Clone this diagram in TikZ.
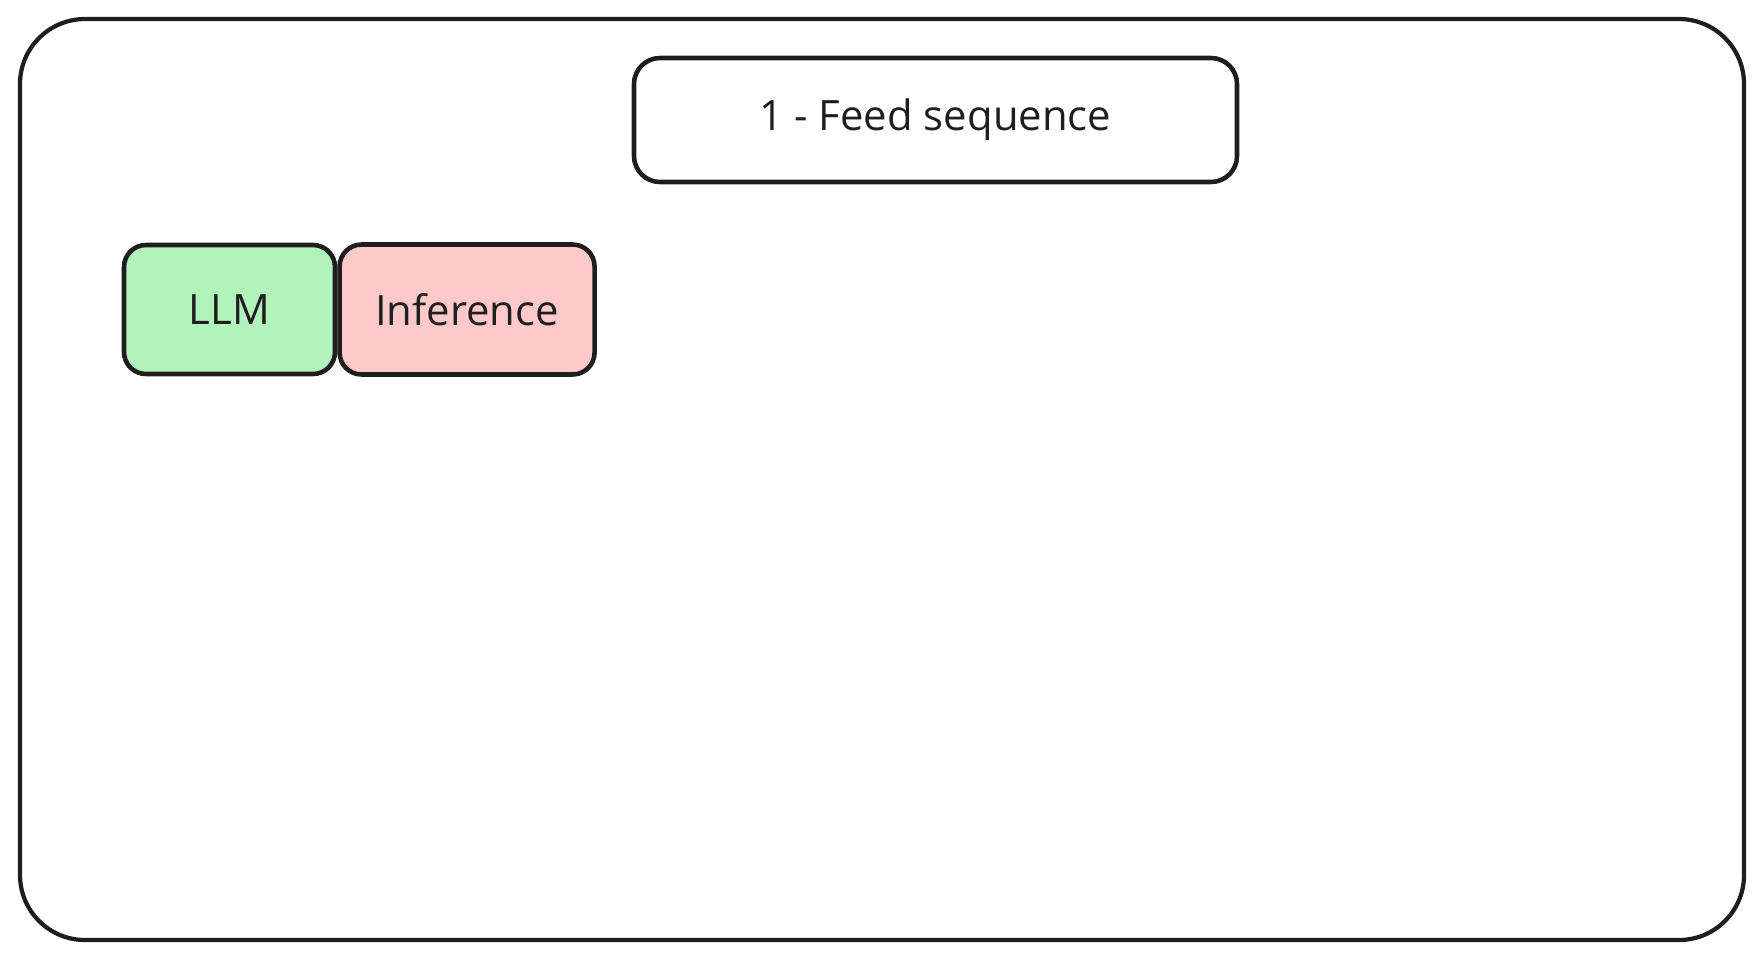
\documentclass[tikz,border=0pt]{standalone}
\usepackage{fontspec}
\setmainfont{Open Sans}
\usetikzlibrary{positioning}
\definecolor{inkgray}{HTML}{1E1E1E}
\definecolor{llmgreen}{HTML}{B2F2BB}
\definecolor{infred}{HTML}{FFC9C9}

\begin{document}
\begin{tikzpicture}[
  box/.style={draw=inkgray, line width=1.3pt, rounded corners=0.22cm,
    text=inkgray, font=\fontsize{11.9}{14}\selectfont, inner sep=0pt},
  framebox/.style={draw=inkgray, line width=1.2pt, rounded corners=0.65cm}
]
  \useasboundingbox (0,0) rectangle (17.62,-9.61);
  \draw[framebox] (0.20,-0.19) rectangle (17.44,-9.40);

  \node[box, minimum width=6.03cm, minimum height=1.24cm, rounded corners=0.26cm]
    (feed) at (9.355,-1.20) {1 - Feed sequence};

  \node[box, fill=llmgreen, minimum width=2.11cm, minimum height=1.29cm]
    (llm) at (2.295,-3.095) {LLM};
  \node[box, fill=infred, minimum width=2.55cm, minimum height=1.30cm,
    right=0cm of llm] (inference) {Inference};

\end{tikzpicture}
\end{document}
